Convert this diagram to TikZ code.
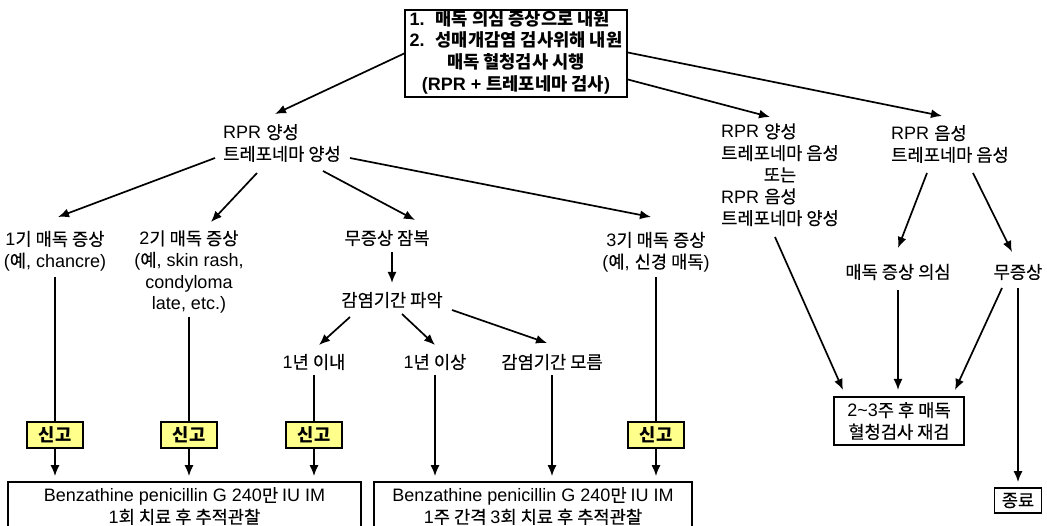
\documentclass[tikz,border=0pt]{standalone}
\usepackage{fontspec}
\setmainfont{Liberation Sans}
\newfontfamily\krfont{Noto Sans CJK KR}[Scale=0.98, UprightFeatures={FakeBold=0.4}]
\usepackage{xcolor}
\usetikzlibrary{positioning}
\usetikzlibrary{arrows.meta}
\XeTeXinterchartokenstate=1
\newXeTeXintercharclass\krclass
\newcount\krcode
\krcode="AC00
\loop\ifnum\krcode<"D7A4\relax
  \XeTeXcharclass\krcode=\krclass
  \advance\krcode by 1
\repeat
\XeTeXinterchartoks 0 \krclass = {\krfont}
\XeTeXinterchartoks 4095 \krclass = {\krfont}
\XeTeXinterchartoks \krclass 0 = {\rmfamily}
\XeTeXinterchartoks 4095 0 = {\rmfamily}
\definecolor{reportyellow}{RGB}{255,255,140}
\tikzstyle{topbox} = [rectangle, draw=black, line width=1.7pt, inner sep=0pt, minimum width=222pt, minimum height=87pt, font=\bfseries]
\tikzstyle{txt} = [inner sep=0pt, align=center]
\tikzstyle{report} = [rectangle, draw=black, line width=1.7pt, fill=reportyellow, minimum width=56pt, minimum height=26pt, inner sep=0pt, font=\bfseries]
\tikzstyle{treat} = [rectangle, draw=black, line width=1.7pt, minimum height=48pt, inner sep=0pt, align=center]
\tikzstyle{arrow} = [line width=1.7pt,->,>={Latex[length=11pt,width=9pt]}]
\tikzstyle{link} = [line width=1.7pt]

\begin{document}
\fontsize{18}{21.7}\selectfont
\begin{tikzpicture}[x=1pt, y=-1pt]
        \useasboundingbox (0,0) rectangle (1047,526);
        \node (top) [topbox] at (516,53.5) {\begin{tabular}{@{}l@{}}
            \makebox[26pt][l]{1.}매독 의심 증상으로 내원\\
            \makebox[26pt][l]{2.}성매개감염 검사위해 내원\\
            \multicolumn{1}{@{}c@{}}{매독 혈청검사 시행}\\
            \multicolumn{1}{@{}c@{}}{(RPR + 트레포네마 검사)}
            \end{tabular}};
        \node (pos1) [txt, align=left] at (282,143) {RPR 양성\\트레포네마 양성};
        \node (pos2) [txt] at (780,177) {\begin{tabular}{@{}l@{}}
            RPR 양성\\트레포네마 음성\\\multicolumn{1}{@{}c@{}}{또는}\\RPR 음성\\트레포네마 양성
            \end{tabular}};
        \node (pos3) [txt, align=left] at (950,144) {RPR 음성\\트레포네마 음성};
        \node (stage1) [txt] at (55,251) {1기 매독 증상\\(예, chancre)};
        \node (stage2) [txt] at (189,272) {2기 매독 증상\\(예, skin rash,\\condyloma\\late, etc.)};
        \node (latent) [txt] at (387,238) {무증상 잠복};
        \node (period) [txt] at (392,300) {감염기간 파악};
        \node (within) [txt] at (314,362) {1년 이내};
        \node (over) [txt] at (435,362) {1년 이상};
        \node (unknown) [txt] at (552,362) {감염기간 모름};
        \node (stage3) [txt] at (656,252) {3기 매독 증상\\(예, 신경 매독)};
        \node (suspect) [txt] at (898,272) {매독 증상 의심};
        \node (nosymp) [txt] at (1018,272) {무증상};
        \node (report1) [report] at (55,435) {신고};
        \node (report2) [report] at (189,435) {신고};
        \node (report3) [report] at (314,435) {신고};
        \node (report4) [report] at (656,435) {신고};
        \node (treat1) [treat, minimum width=353pt] at (184.5,506) {Benzathine penicillin G 240만 IU IM\\1회 치료 후 추적관찰};
        \node (treat2) [treat, minimum width=318pt] at (533,506) {Benzathine penicillin G 240만 IU IM\\1주 간격 3회 치료 후 추적관찰};
        \node (retest) [treat, minimum width=130pt] at (899,421) {2\textasciitilde 3주 후 매독\\혈청검사 재검};
        \node (finish) [treat, minimum width=47pt, minimum height=25pt] at (1018,500.5) {종료};

        \draw [arrow] (top.west) -- ([xshift=-7pt,yshift=29pt]pos1.center);
        \draw [arrow] ([yshift=-26pt]top.east) -- ([xshift=-10pt,yshift=60pt]pos2.center);
        \draw [arrow] ([yshift=1pt]top.east) -- ([xshift=-8pt,yshift=28pt]pos3.center);
        \draw [arrow] ([xshift=-67pt,yshift=-15pt]pos1.center) -- ([xshift=3pt,yshift=34pt]stage1.center);
        \draw [arrow] ([xshift=-25pt,yshift=-30pt]pos1.center) -- ([xshift=22pt,yshift=50pt]stage2.center);
        \draw [arrow] ([xshift=41pt,yshift=-28pt]pos1.center) -- ([xshift=28pt,yshift=18pt]latent.center);
        \draw [arrow] ([xshift=68pt,yshift=-15pt]pos1.center) -- ([xshift=-5pt,yshift=35pt]stage3.center);
        \draw [arrow] ([xshift=5pt,yshift=-14pt]latent.center) -- ([yshift=17pt]period.center);
        \draw [arrow] ([xshift=-42pt,yshift=-17pt]period.center) -- ([xshift=5pt,yshift=17pt]within.center);
        \draw [arrow] ([xshift=10pt,yshift=-14pt]period.center) -- ([yshift=17pt]over.center);
        \draw [arrow] ([xshift=60pt,yshift=-10pt]period.center) -- ([xshift=-5pt,yshift=19pt]unknown.center);
        \draw [link] ([yshift=-26pt]stage1.center) -- (report1.north);
        \draw [link] ([yshift=-45pt]stage2.center) -- (report2.north);
        \draw [link] ([yshift=-13pt]within.center) -- (report3.north);
        \draw [link] ([yshift=-25pt]stage3.center) -- (report4.north);
        \draw [arrow, shorten >=5pt] (report1.south) -- (report1 |- treat1.north);
        \draw [arrow, shorten >=5pt] (report2.south) -- (report2 |- treat1.north);
        \draw [arrow, shorten >=5pt] (report3.south) -- (report3 |- treat1.north);
        \draw [arrow, shorten >=5pt] (report4.south) -- (report4 |- treat2.north);
        \draw [arrow, shorten >=5pt] ([yshift=-13pt]over.center) -- (over |- treat2.north);
        \draw [arrow, shorten >=5pt] ([yshift=-13pt]unknown.center) -- (unknown |- treat2.north);
        \draw [arrow] ([xshift=-5pt,yshift=-60pt]pos2.center) -- ([xshift=-56pt,yshift=31pt]retest.center);
        \draw [arrow] ([xshift=-23pt,yshift=-29pt]pos3.center) -- ([yshift=24pt]suspect.center);
        \draw [arrow] ([xshift=23pt,yshift=-29pt]pos3.center) -- ([xshift=-6pt,yshift=20pt]nosymp.center);
        \draw [arrow] ([yshift=-18pt]suspect.center) -- ([xshift=-1pt,yshift=31pt]retest.center);
        \draw [arrow] ([xshift=-16pt,yshift=-16pt]nosymp.center) -- ([xshift=56pt,yshift=31pt]retest.center);
        \draw [arrow, shorten >=5pt] ([yshift=-16pt]nosymp.center) -- (finish.north);
    \end{tikzpicture}
\end{document}
